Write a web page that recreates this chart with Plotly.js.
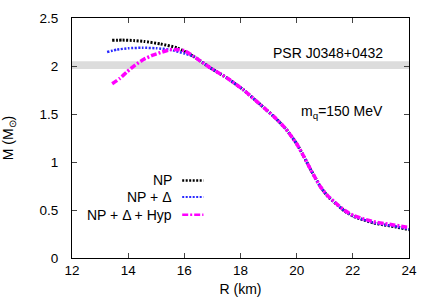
<!DOCTYPE html>
<html><head><meta charset="utf-8">
<script src="https://cdn.plot.ly/plotly-3.0.1.min.js"></script>
<style>html,body{margin:0;padding:0;background:#fff}#chart{width:436px;height:305px}</style>
</head><body><div id="chart"></div>
<script>
// NP
const npR = [13.43, 13.8, 14.2, 14.56, 15.15, 15.74, 16.33, 16.93, 17.52, 18.11, 18.7, 19.2, 19.6, 20.0, 20.25, 20.5, 20.84, 21.1, 21.44, 21.7, 22.03, 22.4, 22.74, 23.1, 23.5, 24.0];
const npM = [2.267, 2.27, 2.265, 2.256, 2.23, 2.19, 2.10, 1.98, 1.875, 1.75, 1.60, 1.47, 1.35, 1.19, 1.06, 0.92, 0.745, 0.645, 0.555, 0.49, 0.433, 0.395, 0.365, 0.345, 0.325, 0.295];
// NP + Delta
const dR = [13.25, 13.6, 14.0, 14.5, 15.0, 15.5, 16.0, 16.33, 16.93, 17.52, 18.11, 18.7, 19.2, 19.6, 20.0, 20.25, 20.5, 20.84, 21.1, 21.44, 21.7, 22.03, 22.4, 22.74, 23.1, 23.5, 24.0];
const dM = [2.146, 2.17, 2.185, 2.19, 2.185, 2.17, 2.13, 2.10, 1.98, 1.875, 1.75, 1.60, 1.47, 1.35, 1.19, 1.06, 0.92, 0.745, 0.645, 0.555, 0.49, 0.433, 0.397, 0.368, 0.348, 0.33, 0.30];
// NP + Delta + Hyp
const hR = [13.43, 13.7, 13.96, 14.25, 14.56, 14.85, 15.15, 15.5, 15.8, 16.0, 16.33, 16.93, 17.52, 18.11, 18.7, 19.2, 19.6, 20.0, 20.25, 20.5, 20.84, 21.1, 21.44, 21.7, 22.03, 22.4, 22.74, 23.1, 23.5, 24.0];
const hM = [1.815, 1.87, 1.94, 2.01, 2.07, 2.11, 2.14, 2.17, 2.17, 2.16, 2.10, 1.98, 1.875, 1.75, 1.60, 1.47, 1.35, 1.19, 1.06, 0.92, 0.745, 0.65, 0.56, 0.497, 0.442, 0.405, 0.378, 0.36, 0.342, 0.318];
// PSR J0348+0432 band
const psrBand = [1.97, 2.05];
const seriesNames = ['NP', 'NP + Δ', 'NP + Δ + Hyp'];
const xTicks = [12, 14, 16, 18, 20, 22, 24];
const yTicks = [0, 0.5, 1, 1.5, 2, 2.5];

const colors = ['#000000', '#2a2aff', '#ff00ff'];
const dashes = ['2px,1.5px', '2px,1.5px', '6px,2px,2px,2px'];
const widths = [3, 2.5, 3.5];
const legWidths = [2.5, 2, 2.5];
const xs = [npR, dR, hR], ys = [npM, dM, hM];

const traces = xs.map((x, i) => ({
  x: x, y: ys[i], type: 'scatter', mode: 'lines', name: seriesNames[i], showlegend: false,
  line: {color: colors[i], dash: dashes[i], width: widths[i], shape: 'spline', smoothing: 0.5}
}));

const font = {family: 'Liberation Sans, Arial, sans-serif', size: 14, color: '#000'};
const legY = [0.323, 0.254, 0.180];
const annotations = seriesNames.map((n, i) => ({
  xref: 'paper', yref: 'paper', x: 0.303, y: legY[i], xanchor: 'right', yanchor: 'middle',
  text: n, showarrow: false, font: font
}));
annotations.push({xref: 'x', yref: 'y', x: 23.15, y: 2.14, xanchor: 'right', yanchor: 'middle',
  text: 'PSR J0348+0432', showarrow: false, font: font});
annotations.push({xref: 'x', yref: 'y', x: 23.15, y: 1.52, xanchor: 'right', yanchor: 'middle',
  text: 'm<sub>q</sub>=150 MeV', showarrow: false, font: font});

const shapes = [{type: 'rect', xref: 'paper', yref: 'y', x0: 0, x1: 1, y0: psrBand[0], y1: psrBand[1],
  fillcolor: '#dcdcdc', line: {width: 0}, layer: 'below'}];
seriesNames.forEach((n, i) => shapes.push({type: 'line', xref: 'paper', yref: 'paper',
  x0: 0.327, x1: 0.390, y0: legY[i], y1: legY[i], line: {color: colors[i], dash: dashes[i], width: legWidths[i]}}));

const layout = {
  width: 436, height: 305, paper_bgcolor: '#fff', plot_bgcolor: '#fff',
  margin: {l: 72, r: 27, t: 18, b: 47},
  font: font,
  xaxis: {range: [12, 24], tickvals: xTicks, ticks: 'inside', ticklen: 5, mirror: 'ticks',
    showline: true, linecolor: '#000', linewidth: 1, showgrid: false, zeroline: false,
    title: {text: 'R (km)', font: font, standoff: 6}, tickfont: {family: font.family, size: 13.5, color: '#000'}},
  yaxis: {range: [0, 2.5], tickvals: yTicks, ticktext: yTicks.map(String), ticks: 'inside', ticklen: 5, mirror: 'ticks',
    showline: true, linecolor: '#000', linewidth: 1, showgrid: false, zeroline: false,
    ticklabelstandoff: 10,
    title: {text: 'M (M<sub>⊙</sub>)', font: font, standoff: 24}, tickfont: {family: font.family, size: 13.5, color: '#000'}},
  annotations: annotations, shapes: shapes
};
Plotly.newPlot('chart', traces, layout, {staticPlot: true, displayModeBar: false});
</script></body></html>
